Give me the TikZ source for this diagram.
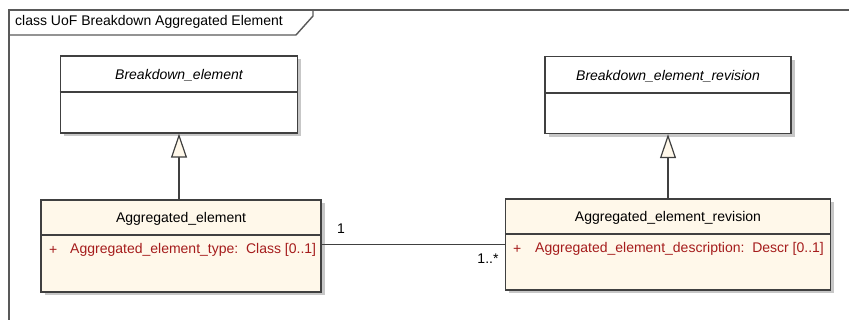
\documentclass[tikz,border=0pt]{standalone}
\usepackage{fontspec}
\setmainfont{Liberation Sans}
\usetikzlibrary{arrows.meta,calc,positioning,shadows}

\definecolor{classfill}{RGB}{255,248,234}
\definecolor{boxline}{RGB}{64,64,64}
\definecolor{attrred}{RGB}{165,28,28}

\tikzset{
  classbox/.style={draw=boxline,line width=1.4pt,inner sep=0pt,
    drop shadow={shadow xshift=3.5pt,shadow yshift=-3.5pt,fill=black!22,opacity=1}},
  uml/.style={font=\fontsize{14}{16}\selectfont},
  attr/.style={uml,text=attrred,anchor=west,inner sep=0pt},
  genarrow/.style={draw=boxline,line width=1.4pt,
    -{Triangle[length=24pt,width=16pt,fill=classfill,line width=1.2pt]}}
}

\begin{document}
\begin{tikzpicture}[x=1pt,y=-1pt]
  \useasboundingbox (0,0) rectangle (849,320);
  \clip (0,0) rectangle (849,320);
  % frame and its tab
  \draw[black!65,line width=1.4pt] (9,330) -- (9,10) -- (860,10);
  \draw[black!65,line width=1.4pt] (9,35) -- (296,35) -- (313,16) -- (313,10);
  \node[uml,anchor=west,inner sep=0pt] (frametitle) at (15,22) {class UoF Breakdown Aggregated Element};

  % upper classes
  \node[classbox,fill=white,minimum width=237pt,minimum height=77pt] (be) at (179,94.5) {};
  \draw[boxline,line width=1.2pt] (be.west |- 0,92) -- (be.east |- 0,92);
  \node[uml,font=\fontsize{14}{16}\selectfont\itshape] (betitle) at (be.north |- 0,75) {Breakdown\_element};

  \node[classbox,fill=white,minimum width=246pt,minimum height=77pt] (ber) at (668,95) {};
  \draw[boxline,line width=1.2pt] (ber.west |- 0,93) -- (ber.east |- 0,93);
  \node[uml,font=\fontsize{14}{16}\selectfont\itshape] (bertitle) at (ber.north |- 0,76) {Breakdown\_element\_revision};

  % lower classes
  \node[classbox,fill=classfill,minimum width=280pt,minimum height=92pt] (ae) at (181,246) {};
  \draw[boxline,line width=1.2pt] (ae.west |- 0,235) -- (ae.east |- 0,235);
  \node[uml] (aetitle) at (ae.north |- 0,219) {Aggregated\_element};
  \node[attr] (aeplus) at (49,250) {+};
  \node[attr] (aeattr) at (70,250) {Aggregated\_element\_type:\ \ Class [0..1]};

  \node[classbox,fill=classfill,minimum width=325pt,minimum height=91pt] (aer) at (668,244.5) {};
  \draw[boxline,line width=1.2pt] (aer.west |- 0,234) -- (aer.east |- 0,234);
  \node[uml] (aertitle) at (aer.north |- 0,218) {Aggregated\_element\_revision};
  \node[attr] (aerplus) at (513,249) {+};
  \node[attr] (aerattr) at (535,249) {Aggregated\_element\_description:\ \ Descr [0..1]};

  % generalisations
  \draw[genarrow] (ae.north -| be.south) -- (be.south);
  \draw[genarrow] (aer.north) -- (ber.south);

  % association
  \draw[boxline,line width=1.4pt] (ae.east |- aer.west) -- (aer.west);
  \node[uml] (multone) at (341,229) {1};
  \node[uml] (multmany) at (488,259) {1..*};
\end{tikzpicture}
\end{document}
